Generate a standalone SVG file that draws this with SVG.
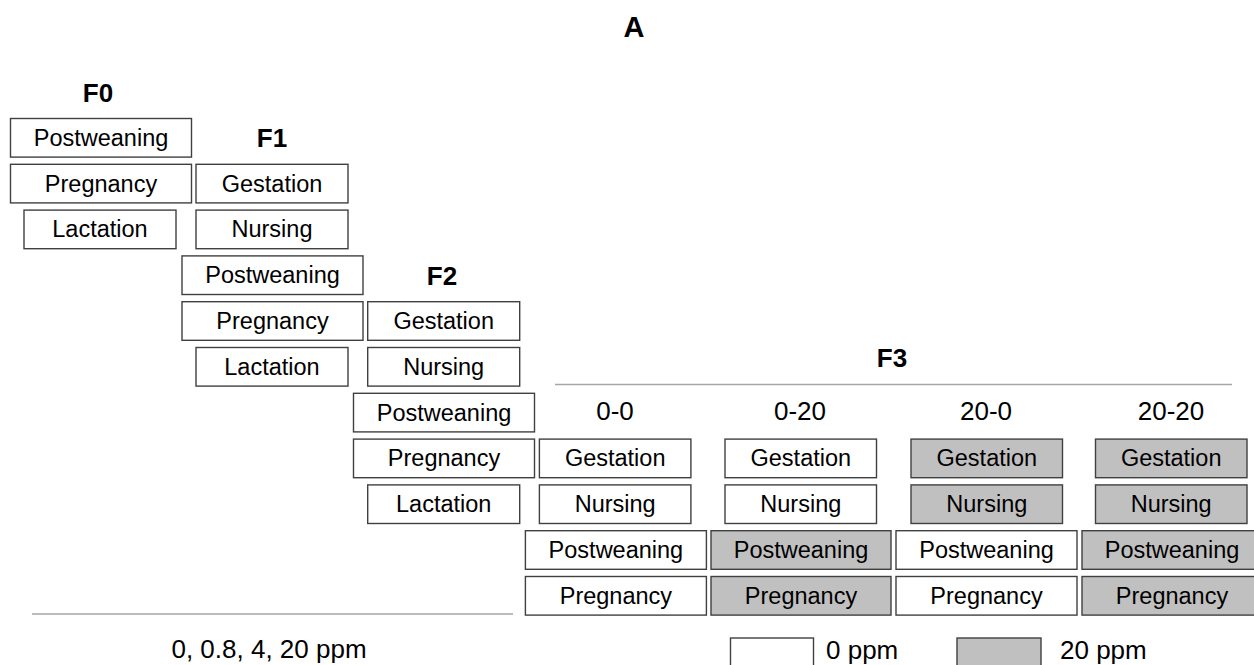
<svg xmlns="http://www.w3.org/2000/svg" width="1254" height="665" viewBox="0 0 1254 665">
<style>
  .b{fill:#ffffff;stroke:#404040;stroke-width:1.4}
  .g{fill:#c0c0c0;stroke:#404040;stroke-width:1.4}
  .t{font-family:"Liberation Sans",Arial,sans-serif;font-size:23.5px;fill:#000;text-anchor:middle}
  .l{font-family:"Liberation Sans",Arial,sans-serif;font-size:26px;fill:#000;text-anchor:middle}
  .h{font-family:"Liberation Sans",Arial,sans-serif;font-size:26px;font-weight:bold;fill:#000;text-anchor:middle}
  .sep{stroke:#a6a6a6;stroke-width:1.6;fill:none}
</style>
<rect x="0" y="0" width="1254" height="665" fill="#ffffff"/>
<g id="title"><text class="h" x="634" y="37" style="font-size:29px">A</text></g>
<g id="lines">
  <line class="sep" x1="555" y1="384.5" x2="1232" y2="384.5"/>
  <line class="sep" x1="32" y1="614" x2="513" y2="614"/>
</g>
<g id="F0">
  <text class="h" x="98" y="102">F0</text>
  <g id="F0-postweaning"><rect class="b" x="10.5" y="118.5" width="181" height="38.6"/><text class="t" x="101" y="145.8">Postweaning</text></g>
  <g id="F0-pregnancy"><rect class="b" x="10.5" y="164.3" width="181" height="38.6"/><text class="t" x="101" y="191.6">Pregnancy</text></g>
  <g id="F0-lactation"><rect class="b" x="24" y="210.1" width="152" height="38.6"/><text class="t" x="100" y="237.4">Lactation</text></g>
</g>
<g id="F1">
  <text class="h" x="272" y="147">F1</text>
  <g id="F1-gestation"><rect class="b" x="196" y="164.3" width="152" height="38.6"/><text class="t" x="272" y="191.6">Gestation</text></g>
  <g id="F1-nursing"><rect class="b" x="196" y="210.1" width="152" height="38.6"/><text class="t" x="272" y="237.4">Nursing</text></g>
  <g id="F1-postweaning"><rect class="b" x="182" y="255.9" width="181" height="38.6"/><text class="t" x="272.5" y="283.2">Postweaning</text></g>
  <g id="F1-pregnancy"><rect class="b" x="182" y="301.7" width="181" height="38.6"/><text class="t" x="272.5" y="329">Pregnancy</text></g>
  <g id="F1-lactation"><rect class="b" x="196" y="347.5" width="152" height="38.6"/><text class="t" x="272" y="374.8">Lactation</text></g>
</g>
<g id="F2">
  <text class="h" x="442" y="285">F2</text>
  <g id="F2-gestation"><rect class="b" x="367.7" y="301.7" width="152" height="38.6"/><text class="t" x="443.7" y="329">Gestation</text></g>
  <g id="F2-nursing"><rect class="b" x="367.7" y="347.5" width="152" height="38.6"/><text class="t" x="443.7" y="374.8">Nursing</text></g>
  <g id="F2-postweaning"><rect class="b" x="353.5" y="393.3" width="181" height="38.6"/><text class="t" x="444" y="420.6">Postweaning</text></g>
  <g id="F2-pregnancy"><rect class="b" x="353.5" y="439.1" width="181" height="38.6"/><text class="t" x="444" y="466.4">Pregnancy</text></g>
  <g id="F2-lactation"><rect class="b" x="367.7" y="484.9" width="152" height="38.6"/><text class="t" x="443.7" y="512.2">Lactation</text></g>
</g>
<g id="F3">
  <text class="h" x="892" y="367">F3</text>
  <g id="F3-0-0">
    <text class="l" x="615" y="420">0-0</text>
    <g id="F3-0-0-gestation"><rect class="b" x="539.4" y="439.1" width="151.5" height="38.6"/><text class="t" x="615.2" y="466.4">Gestation</text></g>
    <g id="F3-0-0-nursing"><rect class="b" x="539.4" y="484.9" width="151.5" height="38.6"/><text class="t" x="615.2" y="512.2">Nursing</text></g>
    <g id="F3-0-0-postweaning"><rect class="b" x="525.4" y="530.7" width="181" height="38.6"/><text class="t" x="615.9" y="558">Postweaning</text></g>
    <g id="F3-0-0-pregnancy"><rect class="b" x="525.4" y="576.5" width="181" height="38.6"/><text class="t" x="615.9" y="603.8">Pregnancy</text></g>
  </g>
  <g id="F3-0-20">
    <text class="l" x="800" y="420">0-20</text>
    <g id="F3-0-20-gestation"><rect class="b" x="725" y="439.1" width="151.5" height="38.6"/><text class="t" x="800.8" y="466.4">Gestation</text></g>
    <g id="F3-0-20-nursing"><rect class="b" x="725" y="484.9" width="151.5" height="38.6"/><text class="t" x="800.8" y="512.2">Nursing</text></g>
    <g id="F3-0-20-postweaning"><rect class="g" x="711" y="530.7" width="180" height="38.6"/><text class="t" x="801" y="558">Postweaning</text></g>
    <g id="F3-0-20-pregnancy"><rect class="g" x="711" y="576.5" width="180" height="38.6"/><text class="t" x="801" y="603.8">Pregnancy</text></g>
  </g>
  <g id="F3-20-0">
    <text class="l" x="986" y="420">20-0</text>
    <g id="F3-20-0-gestation"><rect class="g" x="911" y="439.1" width="151.5" height="38.6"/><text class="t" x="986.8" y="466.4">Gestation</text></g>
    <g id="F3-20-0-nursing"><rect class="g" x="911" y="484.9" width="151.5" height="38.6"/><text class="t" x="986.8" y="512.2">Nursing</text></g>
    <g id="F3-20-0-postweaning"><rect class="b" x="896" y="530.7" width="181" height="38.6"/><text class="t" x="986.5" y="558">Postweaning</text></g>
    <g id="F3-20-0-pregnancy"><rect class="b" x="896" y="576.5" width="181" height="38.6"/><text class="t" x="986.5" y="603.8">Pregnancy</text></g>
  </g>
  <g id="F3-20-20">
    <text class="l" x="1171" y="420">20-20</text>
    <g id="F3-20-20-gestation"><rect class="g" x="1095.5" y="439.1" width="151.5" height="38.6"/><text class="t" x="1171.2" y="466.4">Gestation</text></g>
    <g id="F3-20-20-nursing"><rect class="g" x="1095.5" y="484.9" width="151.5" height="38.6"/><text class="t" x="1171.2" y="512.2">Nursing</text></g>
    <g id="F3-20-20-postweaning"><rect class="g" x="1082" y="530.7" width="181" height="38.6"/><text class="t" x="1172" y="558">Postweaning</text></g>
    <g id="F3-20-20-pregnancy"><rect class="g" x="1082" y="576.5" width="181" height="38.6"/><text class="t" x="1172" y="603.8">Pregnancy</text></g>
  </g>
</g>
<g id="dose-label"><text class="l" x="269" y="658">0, 0.8, 4, 20 ppm</text></g>
<g id="legend">
  <g id="legend-0"><rect class="b" x="730.5" y="638" width="83" height="32"/><text class="l" x="826" y="659" style="text-anchor:start">0 ppm</text></g>
  <g id="legend-20"><rect class="g" x="957" y="638" width="84" height="32"/><text class="l" x="1060" y="659" style="text-anchor:start">20 ppm</text></g>
</g>
</svg>
